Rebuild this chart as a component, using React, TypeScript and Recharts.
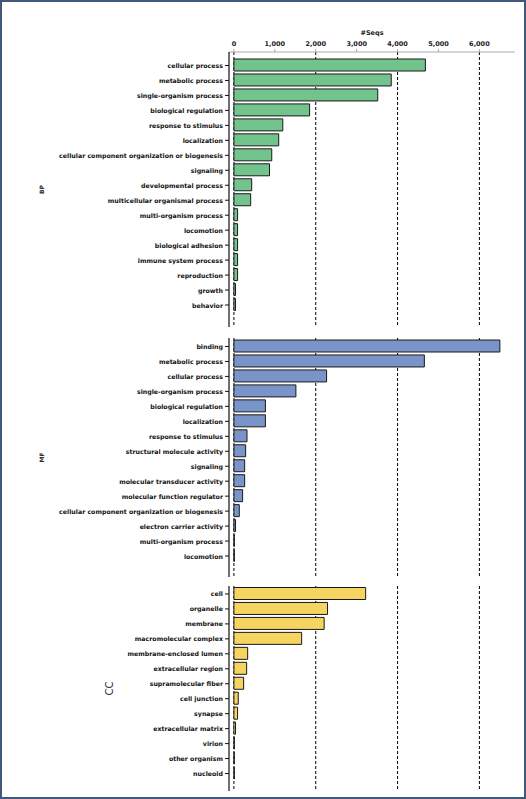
import React from 'react';
import { BarChart, Bar, XAxis, YAxis, CartesianGrid } from 'recharts';

// Biological process
const bpCategories = [
  'cellular process',
  'metabolic process',
  'single-organism process',
  'biological regulation',
  'response to stimulus',
  'localization',
  'cellular component organization or biogenesis',
  'signaling',
  'developmental process',
  'multicellular organismal process',
  'multi-organism process',
  'locomotion',
  'biological adhesion',
  'immune system process',
  'reproduction',
  'growth',
  'behavior',
];
const bpValues = [4680, 3845, 3515, 1850, 1195, 1095, 925, 870, 435, 410, 90, 90, 90, 90, 90, 40, 40];

// Molecular function
const mfCategories = [
  'binding',
  'metabolic process',
  'cellular process',
  'single-organism process',
  'biological regulation',
  'localization',
  'response to stimulus',
  'structural molecule activity',
  'signaling',
  'molecular transducer activity',
  'molecular function regulator',
  'cellular component organization or biogenesis',
  'electron carrier activity',
  'multi-organism process',
  'locomotion',
];
const mfValues = [6500, 4655, 2265, 1515, 770, 770, 320, 287, 263, 263, 213, 131, 40, 10, 10];

// Cellular component
const ccCategories = [
  'cell',
  'organelle',
  'membrane',
  'macromolecular complex',
  'membrane-enclosed lumen',
  'extracellular region',
  'supramolecular fiber',
  'cell junction',
  'synapse',
  'extracellular matrix',
  'virion',
  'other organism',
  'nucleoid',
];
const ccValues = [3220, 2288, 2205, 1655, 336, 311, 238, 106, 90, 40, 10, 10, 10];

const xTicks = [0, 1000, 2000, 3000, 4000, 5000, 6000];
const xDomain = [-120, 6870];

const FONT = '"DejaVu Sans", Verdana, sans-serif';

// plain text tick so long GO terms stay on one line
const CategoryTick = ({ x, y, payload }: any) => (
  <text
    x={x}
    y={y}
    textAnchor="end"
    dominantBaseline="central"
    fontSize={6.25}
    fontWeight="bold"
    fill="#111"
    fontFamily={FONT}
  >
    {payload.value}
  </text>
);

type PanelProps = {
  categories: string[];
  values: number[];
  fill: string;
  name: string;
  top: number;
  height: number;
  padTop: number;
  padBottom: number;
  showAxis?: boolean;
  labelOffset: number;
  labelSize: number;
  labelWeight: string;
};

const Panel = ({
  categories, values, fill, name, top, height, padTop, padBottom,
  showAxis, labelOffset, labelSize, labelWeight,
}: PanelProps) => {
  const data = categories.map((c, i) => ({ name: c, value: values[i] }));
  return (
    <div style={{ position: 'absolute', left: 0, top }}>
      <BarChart
        width={526}
        height={height}
        data={data}
        layout="vertical"
        margin={{ top: 0, right: 11, bottom: 0, left: 0 }}
      >
        <CartesianGrid horizontal={false} syncWithTicks stroke="#000" strokeDasharray="3 2" />
        <XAxis
          type="number"
          domain={xDomain}
          ticks={xTicks}
          allowDataOverflow
          orientation="top"
          hide={!showAxis}
          height={showAxis ? 52 : 0}
          tickSize={3}
          tickMargin={3}
          stroke="#aaa"
          tick={{ fontSize: 6.5, fontWeight: 'bold', fill: '#222', fontFamily: FONT }}
          tickFormatter={(v: number) => v.toLocaleString('en-US')}
          label={{
            value: '#Seqs',
            position: 'insideTop',
            offset: 30,
            style: { fontSize: 6.5, fontWeight: 'bold', fill: '#222', fontFamily: FONT },
          }}
        />
        <YAxis
          type="category"
          dataKey="name"
          width={229}
          interval={0}
          tickSize={4}
          tickMargin={2}
          padding={{ top: padTop, bottom: padBottom }}
          axisLine={{ stroke: '#111', strokeWidth: 1.2 }}
          tickLine={{ stroke: '#111' }}
          tick={<CategoryTick />}
          label={{
            value: name,
            angle: -90,
            position: 'insideLeft',
            offset: labelOffset,
            style: { textAnchor: 'middle', fontSize: labelSize, fontWeight: labelWeight, fill: '#333', fontFamily: FONT },
          }}
        />
        <Bar dataKey="value" fill={fill} stroke="#1a1a1a" strokeWidth={1} barSize={12} isAnimationActive={false} />
      </BarChart>
    </div>
  );
};

export default function App() {
  return (
    <div
      style={{
        position: 'absolute',
        left: 0,
        top: 0,
        width: 526,
        height: 799,
        boxSizing: 'border-box',
        border: '2px solid #40597a',
        background: '#fff',
      }}
    >
      <div style={{ position: 'absolute', left: -2, top: -2 }}>
        <Panel
          categories={bpCategories}
          values={bpValues}
          fill="#72c38c"
          name="BP"
          top={0}
          height={327}
          padTop={6}
          padBottom={14.5}
          showAxis
          labelOffset={42}
          labelSize={6}
          labelWeight="bold"
        />
        <Panel
          categories={mfCategories}
          values={mfValues}
          fill="#7994c8"
          name="MF"
          top={338}
          height={239}
          padTop={1}
          padBottom={13.5}
          labelOffset={42}
          labelSize={6}
          labelWeight="bold"
        />
        <Panel
          categories={ccCategories}
          values={ccValues}
          fill="#f5d462"
          name="CC"
          top={586}
          height={205}
          padTop={0.5}
          padBottom={10}
          labelOffset={109}
          labelSize={10}
          labelWeight="normal"
        />
      </div>
    </div>
  );
}
